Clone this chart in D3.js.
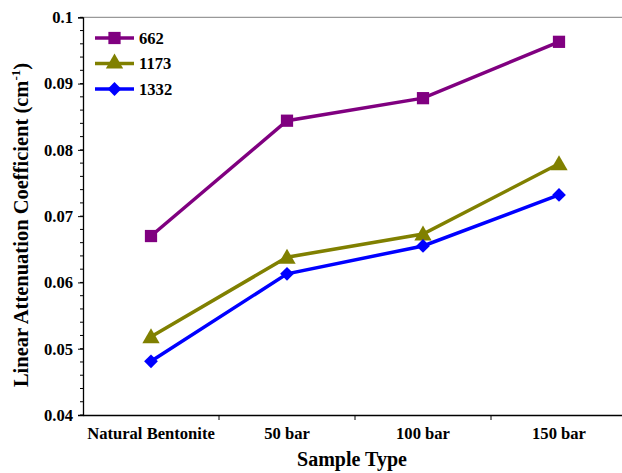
<!DOCTYPE html>
<html><head><meta charset="utf-8">
<script src="https://cdn.jsdelivr.net/npm/d3@7"></script>
<style>body{margin:0;background:#fff}svg{display:block}</style>
</head><body><svg id="c" width="622" height="473"></svg>
<script>
const categories = ["Natural Bentonite", "50 bar", "100 bar", "150 bar"];
const s662 = [0.0670, 0.0844, 0.0878, 0.0963];
const s1173 = [0.0518, 0.0638, 0.0673, 0.0779];
const s1332 = [0.0481, 0.0613, 0.0655, 0.0732];
const seriesNames = ["662", "1173", "1332"];
const yTicks = [0.04, 0.05, 0.06, 0.07, 0.08, 0.09, 0.1];
const yTickLabels = ["0.04", "0.05", "0.06", "0.07", "0.08", "0.09", "0.1"];

const FONT = "'Liberation Serif', 'Times New Roman', 'DejaVu Serif', serif";
const series = [
  {name: seriesNames[0], values: s662, color: "#800080", shape: d3.symbolSquare, size: 150, rot: 0, dy: 0},
  {name: seriesNames[1], values: s1173, color: "#808000", shape: d3.symbolTriangle, size: 130, rot: 0, dy: 1.5},
  {name: seriesNames[2], values: s1332, color: "#0000ff", shape: d3.symbolSquare, size: 95, rot: 45, dy: 0}
];

const svg = d3.select("#c");
const L = 83, R = 627, T = 17.3, B = 415;
const x = d3.scaleBand().domain(categories).range([L, R]);
const y = d3.scaleLinear().domain([0.04, 0.1]).range([B, T]);

svg.append("line").attr("x1", L).attr("x2", 622).attr("y1", T).attr("y2", T).attr("stroke", "#808080").attr("stroke-width", 1);

const minor = d3.range(0.04, 0.1001, 0.002);
svg.append("g").selectAll("line").data(minor).join("line")
  .attr("x1", L - 3).attr("x2", L).attr("y1", d => y(d)).attr("y2", d => y(d)).attr("stroke", "#000");

const yAxis = svg.append("g").attr("transform", `translate(${L},0)`)
  .call(d3.axisLeft(y).tickValues(yTicks).tickFormat((d, i) => yTickLabels[i]).tickSize(5).tickPadding(5));
yAxis.attr("font-family", FONT).attr("font-weight", "bold");
yAxis.select(".domain").attr("stroke", "#000").attr("stroke-width", 1.3);
yAxis.selectAll("text").attr("font-size", 16.6).attr("fill", "#000");
yAxis.selectAll(".tick line").attr("stroke", "#000");

const xAxis = svg.append("g").attr("transform", `translate(0,${B})`)
  .call(d3.axisBottom(x).tickSize(0).tickPadding(12));
xAxis.attr("font-family", FONT).attr("font-weight", "bold");
xAxis.select(".domain").attr("stroke", "#000").attr("stroke-width", 1.3);
xAxis.selectAll("text").attr("font-size", 16.6).attr("fill", "#000");
svg.append("g").selectAll("line").data(categories.slice(1)).join("line")
  .attr("x1", d => x(d)).attr("x2", d => x(d)).attr("y1", B).attr("y2", B + 5).attr("stroke", "#000");

const cx = d => x(d) + x.bandwidth() / 2;
const line = d3.line().x((d, i) => cx(categories[i])).y(d => y(d));

series.forEach(s => {
  svg.append("path").datum(s.values).attr("d", line).attr("fill", "none")
    .attr("stroke", s.color).attr("stroke-width", 3.5);
  svg.append("g").selectAll("path").data(s.values).join("path")
    .attr("d", d3.symbol().type(s.shape).size(s.size))
    .attr("transform", (d, i) => `translate(${cx(categories[i])},${y(d) + s.dy}) rotate(${s.rot})`)
    .attr("fill", s.color);
});

const lg = svg.append("g").attr("font-family", FONT).attr("font-weight", "bold");
series.forEach((s, i) => {
  const ly = 38 + i * 25.5;
  lg.append("line").attr("x1", 95).attr("x2", 134).attr("y1", ly).attr("y2", ly).attr("stroke", s.color).attr("stroke-width", 3.5);
  lg.append("path").attr("d", d3.symbol().type(s.shape).size(s.size)).attr("transform", `translate(114.5,${ly}) rotate(${s.rot})`).attr("fill", s.color);
  lg.append("text").attr("x", 139).attr("y", ly + 5.5).attr("font-size", 16.6).text(s.name);
});

const titles = svg.append("g").attr("font-family", FONT).attr("font-weight", "bold");
titles.append("text").attr("x", 352).attr("y", 466).attr("text-anchor", "middle").attr("font-size", 20).text("Sample Type");
const yt = titles.append("text").attr("transform", "translate(28,225) rotate(-90)").attr("text-anchor", "middle").attr("font-size", 20.5);
yt.append("tspan").text("Linear Attenuation Coefficient (cm");
yt.append("tspan").attr("dy", -8).attr("font-size", 13).text("-1");
yt.append("tspan").attr("dy", 8).text(")");
</script></body></html>
